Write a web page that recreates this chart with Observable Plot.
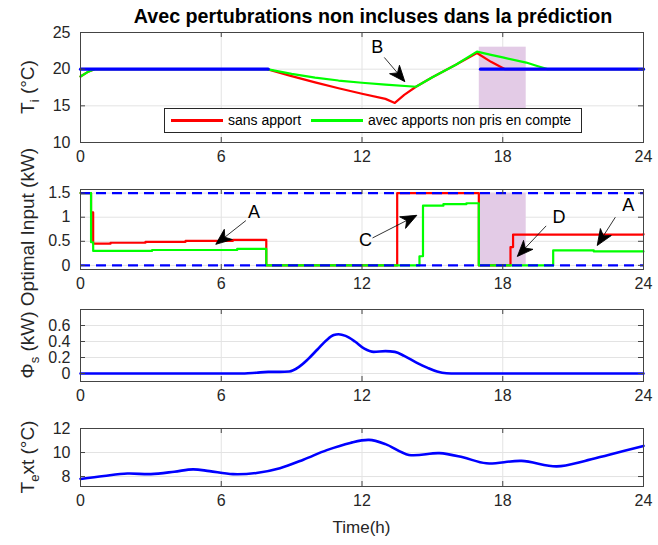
<!DOCTYPE html>
<html><head><meta charset="utf-8">
<script src="https://cdn.jsdelivr.net/npm/d3@7"></script>
<script src="https://cdn.jsdelivr.net/npm/@observablehq/plot@0.6"></script>
<style>
body{margin:0;background:#fff;}
#root{position:relative;width:658px;height:545px;font-family:"Liberation Sans",Arial,sans-serif;color:#262626;overflow:hidden;}
.panel{position:absolute;left:0;}
#title{position:absolute;left:73px;width:600px;top:5px;text-align:center;font-weight:bold;font-size:19.7px;color:#000;white-space:nowrap;}
#legend{position:absolute;left:164px;top:108px;width:416px;height:23px;border:1px solid #262626;background:#fff;font-size:14px;color:#000;}
#legend .sw{position:absolute;top:10px;height:2.5px;width:52px;}
#legend .lb{position:absolute;top:3px;white-space:nowrap;}
#xlabel{position:absolute;left:80px;width:563px;top:518px;text-align:center;font-size:17px;color:#262626;}
#overlay{position:absolute;left:0;top:0;pointer-events:none;}
</style></head><body><div id="root">
<div id="title">Avec pertubrations non incluses dans la prédiction</div>
</div>
<script>
// ---------- data ----------
const hourTicks = [0, 6, 12, 18, 24];

// panel 1 : indoor temperature
const setpointTime = [0, 8, 17.05, 24];
const setpointValue = [20, 20, 20, 20];
const setpointSegment = [1, 1, 2, 2];
const tiSansTime = [0, 0.3, 0.6, 7.95, 9, 10, 11, 12, 13, 13.4, 13.8, 14.3, 15, 16, 16.9, 17.5, 18.1, 24];
const tiSansValue = [19.0, 19.6, 20, 20, 19.05, 18.2, 17.4, 16.65, 15.95, 15.4, 16.5, 17.6, 18.9, 20.6, 22.2, 21.0, 20, 20];
const tiAvecTime = [0, 0.3, 0.6, 7.95, 9, 10, 11, 12, 13, 14.3, 15, 16, 16.9, 17.5, 18, 19, 19.5, 19.9, 24];
const tiAvecValue = [19.0, 19.6, 20, 20, 19.35, 18.85, 18.45, 18.15, 17.9, 17.6, 18.9, 20.6, 22.4, 21.95, 21.6, 20.9, 20.4, 20.0, 20];

// disturbance window (shaded)
const windowStart = 17, windowEnd = 19;
const tiWindowLow = 14.5, tiWindowHigh = 23;

// panel 2 : optimal input (kW)
const inputSansTime = [0, 0.45, 0.54, 1.28, 2.77, 4.48, 6.5, 7.92, 13.5, 16.98, 18.33, 18.44, 24];
const inputSansValue = [1.5, 1.1, 0.45, 0.47, 0.49, 0.51, 0.53, 0, 1.5, 0, 0.38, 0.64, 0.65];
const inputAvecTime = [0, 0.45, 0.54, 3.05, 6.68, 7.92, 14.45, 14.6, 15.47, 16.45, 16.98, 20.15, 21.88, 24];
const inputAvecValue = [1.5, 0.48, 0.3, 0.32, 0.345, 0, 0.19, 1.24, 1.27, 1.29, 0, 0.31, 0.29, 0.29];
const inputBounds = [0, 1.5];

// annotations in panel 2
const noteLabel = ["A", "C", "D", "A"];
const noteTextX = [7.4, 12.15, 20.4, 23.35];
const noteTextY = [1.1, 0.52, 1.0, 1.24];
const noteFromX = [7.05, 12.45, 19.85, 22.8];
const noteFromY = [0.93, 0.57, 0.82, 1.0];
const noteToX = [5.8, 14.3, 18.65, 22.05];
const noteToY = [0.45, 1.03, 0.2, 0.43];

// annotation in panel 1
const noteBLabel = ["B"];
const noteBTextX = [12.65], noteBTextY = [23.0];
const noteBFromX = [12.95], noteBFromY = [21.6];
const noteBToX = [13.8], noteBToY = [18.4];

// panel 3 : solar gains (kW)
const solarTime = [0, 6, 7, 7.5, 8, 8.5, 8.9, 9.3, 9.7, 10.1, 10.5, 10.8, 11.0, 11.3, 11.7, 12.1, 12.5, 13.0, 13.4, 13.8, 14.3, 14.8, 15.2, 15.6, 16, 24];
const solarValue = [0, 0, 0, 0.01, 0.02, 0.02, 0.025, 0.08, 0.18, 0.3, 0.42, 0.48, 0.49, 0.47, 0.4, 0.31, 0.27, 0.28, 0.27, 0.22, 0.14, 0.07, 0.025, 0.003, 0, 0];

// panel 4 : outdoor temperature
const extTime = [0, 1, 2, 3, 4, 4.8, 5.5, 6.5, 7.5, 8.5, 9.5, 10.5, 11.5, 12.3, 13, 14, 15.3, 16.3, 17.3, 18.8, 20.3, 21.5, 22.5, 24];
const extValue = [7.8, 8.05, 8.25, 8.2, 8.4, 8.6, 8.45, 8.2, 8.3, 8.7, 9.4, 10.2, 10.8, 11.05, 10.7, 9.8, 9.95, 9.6, 9.1, 9.3, 8.85, 9.3, 9.8, 10.55];

// ---------- helpers ----------
const zip = (t, v, extra = {}) => t.map((d, i) => Object.assign({t: d, v: v[i]}, Object.fromEntries(Object.entries(extra).map(([k, a]) => [k, a[i]]))));
const RED = "#ff0000", GREEN = "#00ff00", BLUE = "#0000ff", SHADE = "#e3cbe6";
const W = 658, ML = 80, MR = 15, INNERW = W - ML - MR;

function solidHead(color, context) {
  const ns = "http://www.w3.org/2000/svg";
  const doc = (context && context.document) || document;
  const m = doc.createElementNS(ns, "marker");
  m.setAttribute("viewBox", "-17 -8 19 16");
  m.setAttribute("markerWidth", 19);
  m.setAttribute("markerHeight", 16);
  m.setAttribute("markerUnits", "userSpaceOnUse");
  m.setAttribute("orient", "auto");
  m.setAttribute("refX", 0);
  m.setAttribute("refY", 0);
  const p = doc.createElementNS(ns, "path");
  p.setAttribute("d", "M1,0L-15,-6.5L-10.5,0L-15,6.5Z");
  p.setAttribute("fill", "#000");
  m.appendChild(p);
  return m;
}

function panel({top, inner, mb, yDomain, yTicks, marks}) {
  const mt = 10;
  const chart = Plot.plot({
    width: W, height: mt + inner + mb,
    marginLeft: ML, marginRight: MR, marginTop: mt, marginBottom: mb,
    style: {fontFamily: '"Liberation Sans", Arial, sans-serif', fontSize: "16px", color: "#262626", background: "transparent", overflow: "visible"},
    x: {domain: [0, 24]},
    y: {domain: yDomain},
    marks: [
      Plot.gridX([6, 12, 18], {stroke: "#e3e3e3", strokeOpacity: 1}),
      Plot.gridY(yTicks, {stroke: "#e3e3e3", strokeOpacity: 1}),
      ...marks,
      Plot.tickX(hourTicks, {x: d => d, insetTop: inner - 5, stroke: "#444"}),
      Plot.tickX(hourTicks, {x: d => d, insetBottom: inner - 5, stroke: "#444"}),
      Plot.tickY(yTicks, {y: d => d, insetRight: INNERW - 5, stroke: "#444"}),
      Plot.tickY(yTicks, {y: d => d, insetLeft: INNERW - 5, stroke: "#444"}),
      Plot.frame({stroke: "#444", strokeWidth: 1}),
      Plot.axisX(hourTicks, {tickSize: 0, tickPadding: 8, label: null, tickFormat: d => String(d)}),
      Plot.axisY(yTicks, {tickSize: 0, tickPadding: 10, label: null, tickFormat: d => String(d)})
    ]
  });
  chart.classList.add("panel");
  chart.style.top = top + "px";
  document.getElementById("root").appendChild(chart);
}

// panel 1
panel({
  top: 22, inner: 110, mb: 30, yDomain: [10, 25], yTicks: [10, 15, 20, 25],
  marks: [
    Plot.rect([0], {x1: () => windowStart, x2: () => windowEnd, y1: () => tiWindowLow, y2: () => tiWindowHigh, fill: SHADE}),
    Plot.line(zip(tiSansTime, tiSansValue), {x: "t", y: "v", stroke: RED, strokeWidth: 2.2}),
    Plot.line(zip(tiAvecTime, tiAvecValue), {x: "t", y: "v", stroke: GREEN, strokeWidth: 2.2}),
    Plot.line(zip(setpointTime, setpointValue, {s: setpointSegment}), {x: "t", y: "v", z: "s", stroke: BLUE, strokeWidth: 3.2}),
    Plot.link(noteBLabel, {x1: (d, i) => noteBFromX[i], y1: (d, i) => noteBFromY[i], x2: (d, i) => noteBToX[i], y2: (d, i) => noteBToY[i], stroke: "#000", strokeWidth: 0.8, markerEnd: solidHead}),
    Plot.text(noteBLabel, {x: (d, i) => noteBTextX[i], y: (d, i) => noteBTextY[i], text: d => d, fontSize: 18, fill: "#000"})
  ]
});

// panel 2
panel({
  top: 179, inner: 80, mb: 26, yDomain: [-0.085, 1.575], yTicks: [0, 0.5, 1, 1.5],
  marks: [
    Plot.rect([0], {x1: () => windowStart, x2: () => windowEnd, y1: () => inputBounds[0], y2: () => inputBounds[1], fill: SHADE}),
    Plot.line(zip(inputSansTime, inputSansValue), {x: "t", y: "v", curve: "step-after", stroke: RED, strokeWidth: 2.2}),
    Plot.line(zip(inputAvecTime, inputAvecValue), {x: "t", y: "v", curve: "step-after", stroke: GREEN, strokeWidth: 2.2}),
    Plot.ruleY(inputBounds, {y: d => d, stroke: BLUE, strokeWidth: 2.2, strokeDasharray: "10,6"}),
    Plot.link(noteLabel, {x1: (d, i) => noteFromX[i], y1: (d, i) => noteFromY[i], x2: (d, i) => noteToX[i], y2: (d, i) => noteToY[i], stroke: "#000", strokeWidth: 0.8, markerEnd: solidHead}),
    Plot.text(noteLabel, {x: (d, i) => noteTextX[i], y: (d, i) => noteTextY[i], text: d => d, fontSize: 18, fill: "#000"})
  ]
});

// panel 3
panel({
  top: 299, inner: 72, mb: 26, yDomain: [-0.1, 0.8], yTicks: [0, 0.2, 0.4, 0.6],
  marks: [
    Plot.line(zip(solarTime, solarValue), {x: "t", y: "v", curve: "monotone-x", stroke: BLUE, strokeWidth: 2.6})
  ]
});

// panel 4
panel({
  top: 418, inner: 58, mb: 30, yDomain: [7.17, 12], yTicks: [8, 10, 12],
  marks: [
    Plot.line(zip(extTime, extValue), {x: "t", y: "v", curve: "catmull-rom", stroke: BLUE, strokeWidth: 2.6})
  ]
});

// legend (inside panel 1)
const root = document.getElementById("root");
const legend = document.createElement("div");
legend.id = "legend";
legend.innerHTML = `<div class="sw" style="left:6px;background:${RED}"></div><div class="lb" style="left:63px">sans apport</div>
<div class="sw" style="left:146px;background:${GREEN}"></div><div class="lb" style="left:203px">avec apports non pris en compte</div>`;
root.appendChild(legend);

// x label
const xl = document.createElement("div");
xl.id = "xlabel"; xl.textContent = "Time(h)";
root.appendChild(xl);

// y labels overlay
const ov = d3.select(root).append("svg").attr("id", "overlay").attr("width", W).attr("height", 545);
function ylabel(cy, parts) {
  const t = ov.append("text").attr("transform", `translate(34,${cy}) rotate(-90)`)
    .attr("text-anchor", "middle").attr("font-family", '"Liberation Sans", Arial, sans-serif')
    .attr("font-size", 19).attr("fill", "#262626");
  for (const [s, kind] of parts) {
    t.append("tspan").text(s).attr("font-size", kind === 1 ? 13 : 19).attr("dy", kind === 1 ? 5 : kind === -1 ? -5 : 0);
  }
}
ylabel(87, [["T", 0], ["i", 1], [" (°C)", -1]]);
ylabel(227, [["Optimal Input (kW)", 0]]);
ylabel(345, [["Φ", 0], ["s", 1], [" (kW)", -1]]);
ylabel(457, [["T", 0], ["e", 1], ["xt (°C)", -1]]);
</script></body></html>
